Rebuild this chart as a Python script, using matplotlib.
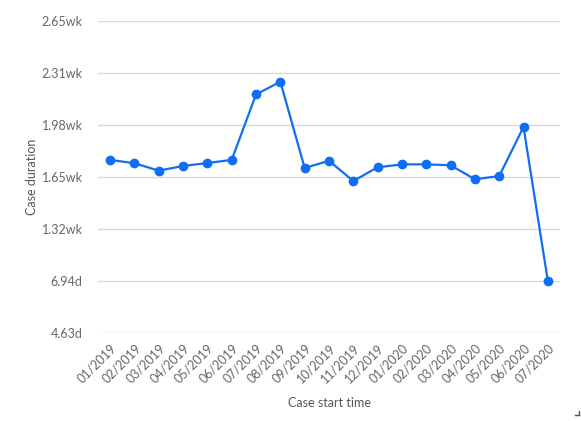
import matplotlib.pyplot as plt
from matplotlib.lines import Line2D

# Monthly case duration (days)
months = ["01/2019", "02/2019", "03/2019", "04/2019", "05/2019", "06/2019",
          "07/2019", "08/2019", "09/2019", "10/2019", "11/2019", "12/2019",
          "01/2020", "02/2020", "03/2020", "04/2020", "05/2020", "06/2020",
          "07/2020"]
duration_days = [12.33, 12.18, 11.85, 12.06, 12.19, 12.33, 15.24, 15.80, 11.97,
                 12.29, 11.39, 12.00, 12.13, 12.13, 12.09, 11.47, 11.61, 13.79,
                 6.95]

y_ticks = [4.625, 6.9375, 9.25, 11.5625, 13.875, 16.1875, 18.5]
y_labels = ["4.63d", "6.94d", "1.32wk", "1.65wk", "1.98wk", "2.31wk", "2.65wk"]

plt.rcParams['font.family'] = ['Lato', 'DejaVu Sans']

fig = plt.figure(figsize=(5.81, 4.21), dpi=100)
ax = fig.add_axes([98 / 581, 1 - 333.3 / 421, 462 / 581, 312.3 / 421])

x = list(range(len(months)))
ax.plot(x, duration_days, color="#0f6ff2", linewidth=1.6, marker="o",
        markersize=6, zorder=3)

ax.set_xlim(-0.5, len(months) - 0.5)
ax.set_ylim(4.625, 18.5)
ax.set_yticks(y_ticks)
ax.set_yticklabels(y_labels)
ax.set_xticks(x)
ax.set_xticklabels(months, rotation=45, ha="right", rotation_mode="anchor")

ax.grid(axis="y", color="#d9d9d9", linewidth=1)
ax.set_axisbelow(True)
for s in ax.spines.values():
    s.set_visible(False)
ax.tick_params(axis="y", length=0, pad=11, labelsize=9, labelcolor="#666666")
ax.tick_params(axis="x", length=0, pad=6, labelsize=9, labelcolor="#666666")

ax.set_xlabel("Case start time", fontsize=9, color="#555555", labelpad=9)
ax.set_ylabel("Case duration", fontsize=9, color="#555555", labelpad=3)

# small resize corner mark
fig.add_artist(Line2D([575 / 581, 579 / 581], [1 - 415 / 421, 1 - 415 / 421],
                      color="#555555", linewidth=1))
fig.add_artist(Line2D([579 / 581, 579 / 581], [1 - 411 / 421, 1 - 415 / 421],
                      color="#555555", linewidth=1))

fig.savefig("out.png", dpi=100)
